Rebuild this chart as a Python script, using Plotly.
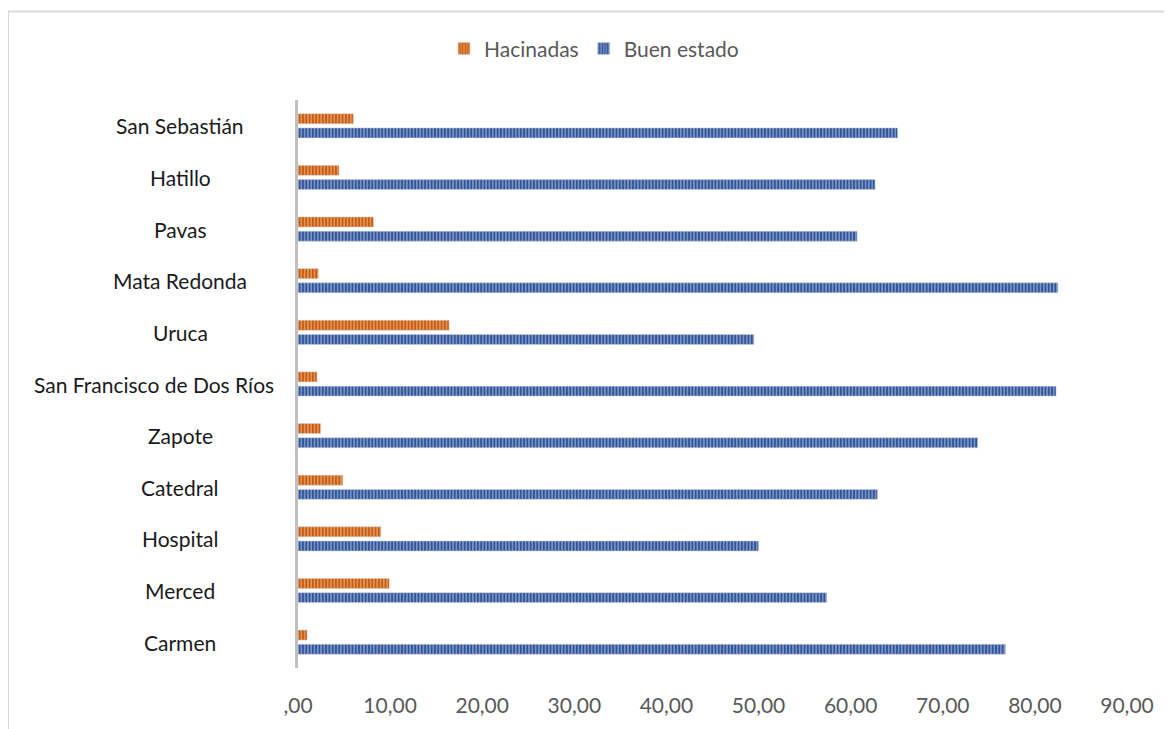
import plotly.graph_objects as go

# Data (bottom to top, as in the source chart)
categories = ["Carmen", "Merced", "Hospital", "Catedral", "Zapote",
              "San Francisco de Dos Ríos", "Uruca", "Mata Redonda",
              "Pavas", "Hatillo", "San Sebastián"]
hacinadas = [0.98, 9.9, 9.0, 4.85, 2.46, 2.06, 16.4, 2.2, 8.2, 4.45, 6.0]
buen_estado = [76.8, 57.4, 50.0, 62.9, 73.8, 82.3, 49.5, 82.5, 60.7, 62.65, 65.1]
tick_vals = [0, 10, 20, 30, 40, 50, 60, 70, 80, 90]
tick_text = [",00", "10,00", "20,00", "30,00", "40,00", "50,00",
             "60,00", "70,00", "80,00", "90,00"]

FONT = "Lato"
OFF = 8  # page body margin
W, H = 1172 - OFF, 729 - OFF
L, R, T, B = 298 - OFF, 45, 100 - OFF, 52
pw, ph = W - L - R, H - T - B

fig = go.Figure()
fig.add_trace(go.Bar(
    y=categories, x=buen_estado, orientation="h", name="Buen estado",
    marker=dict(color="#2F5597",
                line=dict(width=0.6, color="rgba(200,205,215,0.9)"),
                pattern=dict(shape="|", fgcolor="#2F5597", bgcolor="#8198C8",
                             size=3.3, solidity=0.55, fillmode="replace")),
))
fig.add_trace(go.Bar(
    y=categories, x=hacinadas, orientation="h", name="Hacinadas",
    marker=dict(color="#C55A11",
                line=dict(width=0.6, color="rgba(215,200,190,0.9)"),
                pattern=dict(shape="|", fgcolor="#C55A11", bgcolor="#E7985E",
                             size=3.3, solidity=0.55, fillmode="replace")),
))

def px_x(p):
    return (p - OFF - L) / pw

def px_y(p):
    return 1 - (p - OFF - T) / ph

annotations = []
for c in categories:
    if c == "San Francisco de Dos Ríos":
        annotations.append(dict(x=px_x(276), y=c, xref="paper", yref="y",
                                text=c, showarrow=False, xanchor="right",
                                font=dict(family=FONT, size=21, color="#1a1a1a")))
    else:
        annotations.append(dict(x=px_x(180), y=c, xref="paper", yref="y",
                                text=c, showarrow=False, xanchor="center",
                                font=dict(family=FONT, size=21, color="#1a1a1a")))

fig.update_layout(
    width=W, height=H,
    margin=dict(l=L, r=R, t=T, b=B, pad=0),
    paper_bgcolor="white", plot_bgcolor="white",
    barmode="group", bargap=0.45, bargroupgap=0.3,
    font=dict(family=FONT, size=21, color="#595959"),
    showlegend=True,
    legend=dict(orientation="h", x=px_x(594), xanchor="center",
                y=px_y(48), yanchor="middle", traceorder="reversed",
                font=dict(family=FONT, size=21, color="#595959"),
                itemwidth=30, tracegroupgap=0),
    xaxis=dict(range=[0, 90], tickvals=tick_vals, ticktext=tick_text,
               showgrid=False, zeroline=False, showline=False,
               ticks="", ticklabelstandoff=23,
               tickfont=dict(family=FONT, size=21, color="#595959"),
               fixedrange=True),
    yaxis=dict(type="category", range=[-0.5, len(categories) - 0.5],
               showticklabels=False, showgrid=False, zeroline=False,
               showline=True, linecolor="#BFBFBF", linewidth=3,
               ticks="", fixedrange=True),
    annotations=annotations,
    shapes=[dict(type="rect", xref="paper", yref="paper",
                 x0=px_x(8), x1=px_x(1190), y0=px_y(745), y1=px_y(10),
                 line=dict(color="#D9D9D9", width=2), layer="below")],
)

fig.write_html("out.html")
